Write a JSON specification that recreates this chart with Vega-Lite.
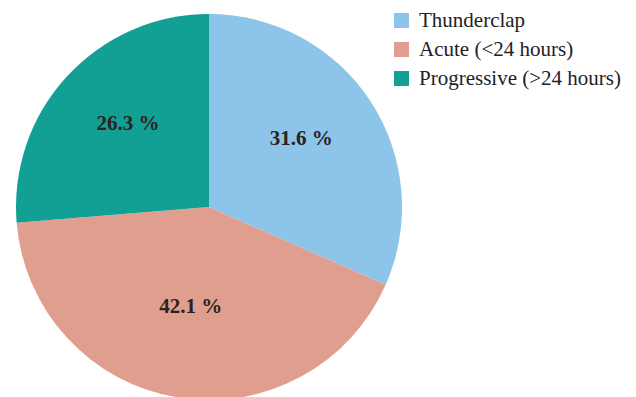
{
  "$schema": "https://vega.github.io/schema/vega-lite/v6.json",
  "width": 418,
  "height": 414,
  "padding": {"left": 0, "top": 0, "right": 218, "bottom": 0},
  "autosize": {"type": "none"},
  "background": "#ffffff",
  "data": {
    "values": [
      {"onset": "Thunderclap", "percent": 31.6, "rank": 1},
      {"onset": "Acute (<24 hours)", "percent": 42.1, "rank": 2},
      {"onset": "Progressive (>24 hours)", "percent": 26.3, "rank": 3}
    ]
  },
  "transform": [
    {"calculate": "format(datum.percent, '.1f') + ' %'", "as": "label"}
  ],
  "encoding": {
    "theta": {"field": "percent", "type": "quantitative", "stack": true},
    "order": {"field": "rank", "type": "quantitative"},
    "color": {
      "field": "onset",
      "type": "nominal",
      "sort": ["Thunderclap", "Acute (<24 hours)", "Progressive (>24 hours)"],
      "scale": {
        "domain": ["Thunderclap", "Acute (<24 hours)", "Progressive (>24 hours)"],
        "range": ["#8cc4ea", "#e09e8e", "#12a094"]
      },
      "legend": {
        "title": null,
        "orient": "none",
        "legendX": 391,
        "legendY": 10,
        "symbolType": "square",
        "symbolSize": 225,
        "symbolStrokeWidth": 0,
        "symbolOpacity": 1,
        "labelFont": "Liberation Serif",
        "labelFontSize": 21,
        "labelColor": "#222222",
        "labelOffset": 7,
        "rowPadding": 7,
        "labelLimit": 300
      }
    }
  },
  "layer": [
    {
      "mark": {"type": "arc", "outerRadius": 193, "stroke": null}
    },
    {
      "mark": {
        "type": "text",
        "radius": 110,
        "dy": -8,
        "font": "Liberation Serif",
        "fontWeight": "bold",
        "fontSize": 21,
        "align": "center",
        "baseline": "middle"
      },
      "encoding": {
        "text": {"field": "label", "type": "nominal"},
        "color": {"value": "#2b2222"}
      }
    }
  ]
}
